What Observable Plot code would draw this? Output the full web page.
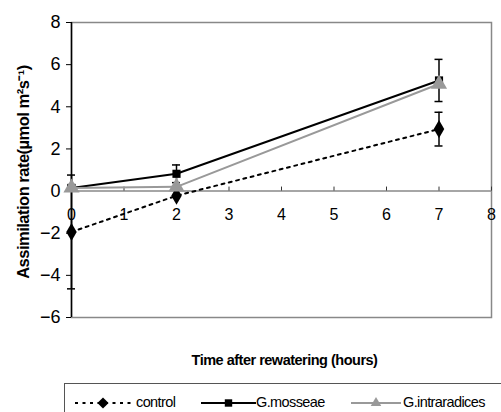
<!DOCTYPE html>
<html><head><meta charset="utf-8">
<script src="https://cdn.jsdelivr.net/npm/d3@7"></script>
<script src="https://cdn.jsdelivr.net/npm/@observablehq/plot@0.6"></script>
<style>
body{margin:0;background:#fff;font-family:"Liberation Sans",Arial,sans-serif;}
#wrap{position:relative;width:501px;height:412px;overflow:hidden;background:#fff;}
#legend{position:absolute;left:64px;top:383px;width:460px;height:40px;border:1px solid #555;box-sizing:border-box;}
.item{position:absolute;top:0;height:38px;}
.item svg{position:absolute;top:0;left:0;}
.item span{position:absolute;top:10px;font-size:14.5px;letter-spacing:-0.6px;white-space:nowrap;color:#000;}
</style></head>
<body><div id="wrap"><div id="chart"></div><div id="legend"></div></div>
<script>
const times = [0, 2, 7];
const seriesNames = ["control", "G.mosseae", "G.intraradices"];
const control = [-1.94, -0.22, 2.94];
const controlErr = [2.7, 0, 0.8];
const mosseae = [0.15, 0.82, 5.25];
const mosseaeErr = [0.12, 0.42, 1.0];
const intraradices = [0.15, 0.2, 5.08];
const intraradicesErr = [0, 0, 0];
const xTicks = [0, 1, 2, 3, 4, 5, 6, 7, 8];
const yTicks = [-6, -4, -2, 0, 2, 4, 6, 8];
const xLabel = "Time after rewatering (hours)";
const yLabel = "Assimilation rate(µmol m²s⁻¹)";

const values = [control, mosseae, intraradices];
const errors = [controlErr, mosseaeErr, intraradicesErr];
const styles = [
  {stroke: "#000", dash: "3,4.5", symbol: "diamond", r: 5.5, fill: "#000"},
  {stroke: "#000", dash: null, symbol: "square", r: 4.6, fill: "#000"},
  {stroke: "#999", dash: null, symbol: "triangle", r: 6, fill: "#999"}
];
const rows = [];
seriesNames.forEach((s, i) => times.forEach((t, j) => rows.push({series: s, i, t, v: values[i][j], e: errors[i][j]})));

const marks = [
  Plot.frame({stroke: "#888", strokeWidth: 1.5}),
  Plot.ruleY([0], {stroke: "#888", strokeWidth: 1.5}),
  Plot.ruleX(xTicks.slice(1), {x: d => d, y1: 0, y2: 0, insetTop: -4, stroke: "#333", strokeWidth: 1}),
  Plot.text(xTicks, {x: d => d, y: 0, dy: 24, text: d => String(d), fontSize: 16}),
  Plot.axisY({ticks: yTicks, tickSize: 5, tickPadding: 6, fontSize: 18, label: null, stroke: "#000"}),
  Plot.ruleX([0], {stroke: "#000", strokeWidth: 1.5}),
  Plot.text([yLabel], {frameAnchor: "left", dx: -48, dy: 2, rotate: -90, textAnchor: "middle", lineAnchor: "middle", fontSize: 16.5, fontWeight: "bold"}),
  Plot.text([xLabel], {frameAnchor: "bottom", dy: 43, dx: 3, textAnchor: "middle", lineAnchor: "middle", fontSize: 14.5, fontWeight: "bold"})
];
seriesNames.forEach((s, i) => {
  const st = styles[i];
  const d = rows.filter(r => r.i === i);
  const de = d.filter(r => r.e > 0);
  marks.push(Plot.line(d, {x: "t", y: "v", stroke: st.stroke, strokeWidth: 2, strokeDasharray: st.dash}));
  marks.push(Plot.ruleX(de, {x: "t", y1: r => r.v - r.e, y2: r => r.v + r.e, stroke: "#000", strokeWidth: 1.5}));
  marks.push(Plot.ruleY(de, {y: r => r.v + r.e, x1: "t", x2: "t", insetLeft: -4, insetRight: -4, stroke: "#000", strokeWidth: 1.5}));
  marks.push(Plot.ruleY(de, {y: r => r.v - r.e, x1: "t", x2: "t", insetLeft: -4, insetRight: -4, stroke: "#000", strokeWidth: 1.5}));
});
seriesNames.forEach((s, i) => {
  const st = styles[i];
  marks.push(Plot.dot(rows.filter(r => r.i === i), {x: "t", y: "v", symbol: st.symbol, r: st.r, fill: st.fill, stroke: "none"}));
});

const chart = Plot.plot({
  width: 501, height: 380,
  marginTop: 22, marginBottom: 63, marginLeft: 71, marginRight: 10,
  style: {fontFamily: "Liberation Sans, Arial, sans-serif", color: "#000", background: "#fff"},
  x: {domain: [0, 8], axis: null},
  y: {domain: [-6, 8], axis: null},
  marks
});
chart.querySelectorAll("text").forEach(t => { if (t.getAttribute("font-weight") === "bold" || t.closest("[font-weight=bold]")) t.style.letterSpacing = "-0.5px"; });
document.getElementById("chart").appendChild(chart);

// legend
const legend = document.getElementById("legend");
const legendPos = [{x: 10, w: 56, tx: 71}, {x: 136, w: 55, tx: 191}, {x: 286, w: 50, tx: 338}];
seriesNames.forEach((s, i) => {
  const st = styles[i];
  const p = legendPos[i];
  const div = document.createElement("div");
  div.className = "item";
  div.style.left = p.x + "px";
  const svg = d3.create("svg").attr("width", p.w + 2).attr("height", 38);
  svg.append("line").attr("x1", 0).attr("x2", p.w).attr("y1", 19).attr("y2", 19)
    .attr("stroke", st.stroke).attr("stroke-width", 2).attr("stroke-dasharray", st.dash);
  const sym = d3.symbol(
    st.symbol === "diamond" ? d3.symbolDiamond2 : st.symbol === "square" ? d3.symbolSquare2 : d3.symbolTriangle2,
    st.symbol === "diamond" ? 80 : st.symbol === "square" ? 70 : 80);
  svg.append("path").attr("d", sym()).attr("transform", `translate(${p.w / 2},19)`).attr("fill", st.fill);
  div.appendChild(svg.node());
  const span = document.createElement("span");
  span.style.left = (p.tx - p.x) + "px";
  span.textContent = s;
  div.appendChild(span);
  legend.appendChild(div);
});
</script></body></html>
